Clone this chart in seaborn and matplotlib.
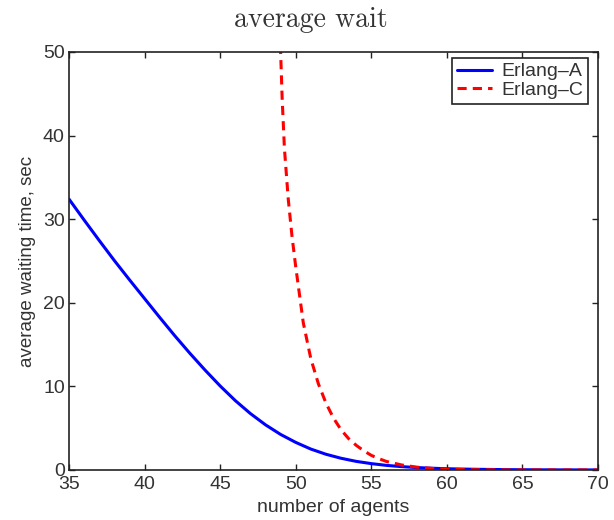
import numpy as np
import pandas as pd
import seaborn as sns
import matplotlib.pyplot as plt

# Erlang-A curve
agents_a = [35, 36, 37, 38, 39, 40, 41, 42, 43, 44, 45, 46, 47, 48, 49, 50,
            51, 52, 53, 54, 55, 56, 57, 58, 59, 60, 61, 62, 64, 66, 68, 70]
wait_a = [32.4, 29.9, 27.45, 25.05, 22.75, 20.5, 18.25, 16.05, 13.95, 11.95,
          10.05, 8.3, 6.75, 5.4, 4.25, 3.3, 2.5, 1.88, 1.4, 1.03, 0.76, 0.55,
          0.4, 0.29, 0.21, 0.15, 0.11, 0.08, 0.04, 0.02, 0.01, 0.005]

# Erlang-C curve (blows up just below 49 agents)
agents_c = [48.9, 49.0, 49.1, 49.25, 49.5, 49.75, 50, 50.5, 51, 51.5, 52, 52.5,
            53, 53.5, 54, 54.5, 55, 55.5, 56, 57, 58, 59, 60, 61, 62, 64, 66,
            68, 70]
wait_c = [58, 50, 44.5, 38.5, 32.5, 28, 24.3, 17.6, 13.3, 10.3, 8.0, 6.2,
          4.8, 3.75, 2.95, 2.3, 1.75, 1.35, 1.02, 0.6, 0.34, 0.19, 0.1, 0.05,
          0.025, 0.006, 0.0015, 0.0004, 0.0001]

df_a = pd.DataFrame({'agents': agents_a, 'wait': wait_a})
df_c = pd.DataFrame({'agents': agents_c, 'wait': wait_c})

sns.set_style('ticks')
plt.rcParams['font.family'] = ['Liberation Sans', 'DejaVu Sans']

fig = plt.figure(figsize=(6.14, 5.2), dpi=100)
ax = fig.add_axes([0.1124, 0.0962, 0.8616, 0.8038])

sns.lineplot(data=df_a, x='agents', y='wait', ax=ax, color='#0000ff',
             linewidth=2.2, label='Erlang\u2013A', sort=False)
sns.lineplot(data=df_c, x='agents', y='wait', ax=ax, color='#ff0000',
             linewidth=2.2, label='Erlang\u2013C', sort=False)
ax.lines[1].set_dashes((3, 2))

ax.set_xlim(35, 70)
ax.set_ylim(0, 50)
ax.set_xticks(np.arange(35, 71, 5))
ax.set_yticks(np.arange(0, 51, 10))
ax.tick_params(direction='in', top=True, right=True, labelsize=14,
               length=4, width=1, colors='#222222', labelcolor='#333333')
ax.tick_params(axis='x', pad=4)
ax.tick_params(axis='y', pad=3)
for s in ax.spines.values():
    s.set_visible(True)
    s.set_linewidth(1.2)
    s.set_color('#222222')

ax.set_xlabel('number of agents', fontsize=14, color='#333333', labelpad=5)
ax.set_ylabel('average waiting time, sec', fontsize=13.5, color='#333333',
              labelpad=5)
fig.text(0.507, 1 - 20 / 520, 'average wait', fontsize=20, family='cmr10',
         color='#333333', ha='center', va='center')

leg = ax.legend(loc='upper right', bbox_to_anchor=(0.981, 0.986),
                borderaxespad=0, fontsize=14, frameon=True, fancybox=False,
                handlelength=1.8, handletextpad=0.5, borderpad=0.25,
                labelspacing=0.05)
leg.get_frame().set_edgecolor('#222222')
leg.get_frame().set_linewidth(1.2)
leg.get_frame().set_alpha(1)
for t in leg.get_texts():
    t.set_color('#333333')

fig.savefig('out.png', dpi=100)
